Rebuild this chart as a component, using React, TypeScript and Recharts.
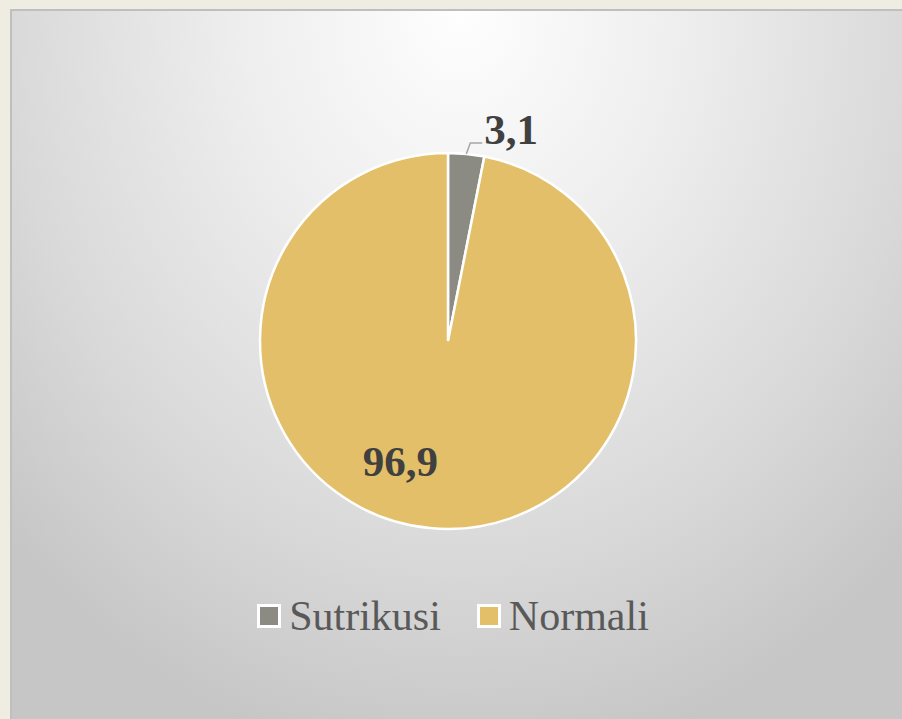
import React from 'react';
import { PieChart, Pie, Cell, Legend } from 'recharts';

const CATEGORIES = ['Sutrikusi', 'Normali'];
const VALUES = [3.1, 96.9];
const COLORS = ['#8b8b84', '#e4bf69'];

const data = CATEGORIES.map((name, i) => ({ name, value: VALUES[i] }));

const RAD = Math.PI / 180;
const FONT = '"Liberation Serif", "Times New Roman", serif';

const renderLabel = (props: any) => {
  const { cx, cy, midAngle, outerRadius, index, value } = props;
  const text = String(value).replace('.', ',');
  if (index === 0) {
    // small slice: leader line out to the label
    const sx = cx + outerRadius * Math.cos(-midAngle * RAD);
    const sy = cy + outerRadius * Math.sin(-midAngle * RAD);
    const mx = sx + 4;
    const my = sy - 11;
    const ex = mx + 12;
    return (
      <g>
        <polyline points={`${sx},${sy} ${mx},${my} ${ex},${my}`} fill="none" stroke="#a6a6a6" strokeWidth={1.5} />
        <text x={ex + 2} y={my + 1} fill="#404040" fontFamily={FONT} fontWeight="bold" fontSize={43} textAnchor="start">
          {text}
        </text>
      </g>
    );
  }
  const a = midAngle - 16;
  const r = outerRadius * 0.69;
  const x = cx + r * Math.cos(-a * RAD);
  const y = cy + r * Math.sin(-a * RAD);
  return (
    <text x={x} y={y} fill="#404040" fontFamily={FONT} fontWeight="bold" fontSize={43} textAnchor="middle" dominantBaseline="central">
      {text}
    </text>
  );
};

// legend built in the data order (Sutrikusi first)
const renderLegend = () => (
  <div style={{ display: 'flex', justifyContent: 'center', gap: 36, fontFamily: FONT, fontSize: 42, color: '#595959' }}>
    {data.map((entry, i) => (
      <div key={`leg-${i}`} style={{ display: 'flex', alignItems: 'center' }}>
        <span
          style={{
            display: 'inline-block',
            width: 18,
            height: 18,
            background: COLORS[i],
            border: '3px solid #ffffff',
            marginRight: 8,
          }}
        />
        <span>{entry.name}</span>
      </div>
    ))}
  </div>
);

const App: React.FC = () => {
  return (
    <div style={{ position: 'absolute', left: 0, top: 0, width: 902, height: 719, background: '#efece2', overflow: 'hidden' }}>
      <div
        style={{
          position: 'absolute',
          left: 10,
          top: 9,
          width: 900,
          height: 720,
          borderTop: '2px solid #bfbfbf',
          borderLeft: '2px solid #bfbfbf',
          background: 'radial-gradient(ellipse 70% 105% at 50% 0%, #fefefe 0%, #eeeeee 35%, #d9d9d9 72%, #c6c6c6 100%)',
        }}
      />
      <div style={{ position: 'absolute', left: 0, top: 0 }}>
        <PieChart width={902} height={719} margin={{ top: 0, right: 0, bottom: 0, left: 0 }}>
          <Pie
            data={data}
            dataKey="value"
            nameKey="name"
            cx={448}
            cy={341}
            outerRadius={188}
            startAngle={90}
            endAngle={-270}
            stroke="#ffffff"
            strokeWidth={2.5}
            label={renderLabel}
            labelLine={false}
            isAnimationActive={false}
          >
            {data.map((entry, index) => (
              <Cell key={`cell-${index}`} fill={COLORS[index]} />
            ))}
          </Pie>
          <Legend
            content={renderLegend}
            wrapperStyle={{ position: 'absolute', top: 592, left: 2, width: 902 }}
          />
        </PieChart>
      </div>
    </div>
  );
};

export default App;
